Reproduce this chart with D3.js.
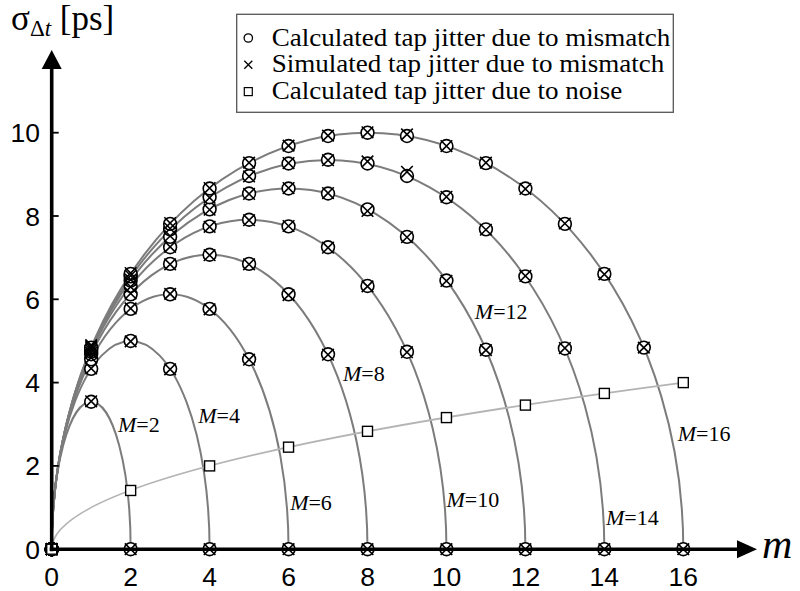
<!DOCTYPE html>
<html>
<head>
<meta charset="utf-8">
<script src="https://cdn.jsdelivr.net/npm/d3@7"></script>
<style>
  body { margin: 0; background: #fff; }
  svg { display: block; }
</style>
</head>
<body>
<svg id="chart" width="800" height="591"></svg>
<script>
// number of taps M for every curve
const tapCounts = [2, 4, 6, 8, 10, 12, 14, 16];
// peak height of each mismatch curve (at m = M/2), ps
const peakSigma = [3.54, 5.0, 6.12, 7.07, 7.91, 8.66, 9.35, 10.0];

// calculated tap jitter due to mismatch, index = m (0..M)
const calcMismatch = [
  [0, 3.54, 0],
  [0, 4.33, 5.0, 4.33, 0],
  [0, 4.56, 5.77, 6.12, 5.77, 4.56, 0],
  [0, 4.68, 6.12, 6.85, 7.07, 6.85, 6.12, 4.68, 0],
  [0, 4.74, 6.32, 7.25, 7.75, 7.91, 7.75, 7.25, 6.32, 4.74, 0],
  [0, 4.79, 6.45, 7.5, 8.16, 8.54, 8.66, 8.54, 8.16, 7.5, 6.45, 4.79, 0],
  [0, 4.82, 6.55, 7.68, 8.45, 8.96, 9.26, 9.35, 9.26, 8.96, 8.45, 7.68, 6.55, 4.82, 0],
  [0, 4.84, 6.61, 7.81, 8.66, 9.27, 9.68, 9.92, 10.0, 9.92, 9.68, 9.27, 8.66, 7.81, 6.61, 4.84, 0]
];

// simulated tap jitter due to mismatch, index = m (0..M)
const simMismatch = [
  [0, 3.55, 0],
  [0, 4.34, 4.99, 4.32, 0],
  [0, 4.6, 5.78, 6.13, 5.76, 4.55, 0],
  [0, 4.72, 6.14, 6.84, 7.06, 6.84, 6.1, 4.67, 0],
  [0, 4.78, 6.3, 7.26, 7.74, 7.9, 7.76, 7.24, 6.31, 4.73, 0],
  [0, 4.83, 6.47, 7.52, 8.15, 8.53, 8.67, 8.55, 8.12, 7.49, 6.44, 4.78, 0],
  [0, 4.87, 6.57, 7.7, 8.44, 8.95, 9.27, 9.34, 9.31, 9.06, 8.46, 7.67, 6.56, 4.83, 0],
  [0, 4.9, 6.63, 7.83, 8.67, 9.28, 9.69, 9.93, 10.01, 9.96, 9.68, 9.28, 8.65, 7.82, 6.6, 4.84, 0]
];

// calculated tap jitter due to noise
const noiseM = [0, 2, 4, 6, 8, 10, 12, 14, 16];
const noiseSigma = [0, 1.41, 2.0, 2.45, 2.83, 3.16, 3.46, 3.74, 4.0];

const xTicks = [0, 2, 4, 6, 8, 10, 12, 14, 16];
const yTicks = [0, 2, 4, 6, 8, 10];

const legendItems = [
  { shape: "circle", text: "Calculated tap jitter due to mismatch" },
  { shape: "cross", text: "Simulated tap jitter due to mismatch" },
  { shape: "square", text: "Calculated tap jitter due to noise" }
];

const svg = d3.select("#chart");
const x = d3.scaleLinear().domain([0, 16]).range([51.7, 683.3]);
const y = d3.scaleLinear().domain([0, 10]).range([549.2, 132.7]);

const curveColor = "#7c7c7c";
const noiseColor = "#b4b4b4";
const r = 6.4;
const crossHalf = 5.8;

// mismatch curves: each one is half an ellipse from (0,0) to (M,0)
svg
  .append("g")
  .selectAll("path")
  .data(tapCounts)
  .join("path")
  .attr("fill", "none")
  .attr("stroke", curveColor)
  .attr("stroke-width", 2)
  .attr("d", (M, i) => {
    const rx = (x(M) - x(0)) / 2;
    const ry = y(0) - y(peakSigma[i]);
    return `M${x(0)},${y(0)} A${rx},${ry} 0 0 1 ${x(M)},${y(0)}`;
  });

// noise curve (sideways parabola through the squares)
const nLast = noiseM.length - 1;
svg
  .append("path")
  .attr("fill", "none")
  .attr("stroke", noiseColor)
  .attr("stroke-width", 1.9)
  .attr(
    "d",
    `M${x(noiseM[0])},${y(noiseSigma[0])} Q${x(noiseM[0])},${y(noiseSigma[nLast] / 2)} ${x(noiseM[nLast])},${y(noiseSigma[nLast])}`
  );

// curve labels, anchored in data units
const labelAt = [
  [1.68, 2.81], [3.71, 3.03], [6.04, 0.93], [7.38, 4.04],
  [10.0, 1.01], [10.72, 5.53], [14.04, 0.58], [15.86, 2.6]
];
const labels = svg
  .append("g")
  .selectAll("text")
  .data(tapCounts)
  .join("text")
  .attr("x", (d, i) => x(labelAt[i][0]))
  .attr("y", (d, i) => y(labelAt[i][1]))
  .attr("font-family", "Liberation Serif, Times New Roman, serif")
  .attr("font-size", 22)
  .attr("fill", "#000");
labels.append("tspan").attr("font-style", "italic").text("M");
labels.append("tspan").text(d => "=" + d);

// markers
const toPoints = arr =>
  arr.flatMap((vals, i) => vals.map((v, m) => ({ M: tapCounts[i], m, v })));

const crossPath = (cx, cy, h) =>
  `M${cx - h},${cy - h}L${cx + h},${cy + h}M${cx - h},${cy + h}L${cx + h},${cy - h}`;

const marks = svg.append("g");

marks
  .selectAll("circle")
  .data(toPoints(calcMismatch))
  .join("circle")
  .attr("cx", d => x(d.m))
  .attr("cy", d => y(d.v))
  .attr("r", r)
  .attr("fill", "#fff")
  .attr("stroke", "#000")
  .attr("stroke-width", 1.6);

marks
  .selectAll("path.cross")
  .data(toPoints(simMismatch))
  .join("path")
  .classed("cross", true)
  .attr("d", d => crossPath(x(d.m), y(d.v), crossHalf))
  .attr("stroke", "#000")
  .attr("stroke-width", 1.6)
  .attr("fill", "none");

marks
  .selectAll("rect")
  .data(noiseM)
  .join("rect")
  .attr("x", (d, i) => x(d) - 5)
  .attr("y", (d, i) => y(noiseSigma[i]) - 5)
  .attr("width", 10)
  .attr("height", 10)
  .attr("fill", "#fff")
  .attr("stroke", "#000")
  .attr("stroke-width", 1.4);

// axes with arrow heads
const axes = svg.append("g").attr("fill", "#000").attr("stroke", "#000");
axes
  .append("line")
  .attr("x1", x(0))
  .attr("x2", x(0))
  .attr("y1", y(0) + 2)
  .attr("y2", 66)
  .attr("stroke-width", 3.6);
axes
  .append("path")
  .attr("stroke", "none")
  .attr("d", `M${x(0)},50 L${x(0) - 10},69 L${x(0) + 10},69 Z`);
axes
  .append("line")
  .attr("x1", x(0) - 2)
  .attr("x2", 740)
  .attr("y1", y(0))
  .attr("y2", y(0))
  .attr("stroke-width", 3.6);
axes
  .append("path")
  .attr("stroke", "none")
  .attr("d", `M757,${y(0)} L737,${y(0) - 9} L737,${y(0) + 9} Z`);

axes
  .selectAll("line.ytick")
  .data(yTicks.filter(d => d > 0))
  .join("line")
  .classed("ytick", true)
  .attr("x1", x(0))
  .attr("x2", x(0) + 7)
  .attr("y1", d => y(d))
  .attr("y2", d => y(d))
  .attr("stroke-width", 1.8);

const tickFont = "Liberation Sans, Arial, sans-serif";
svg
  .append("g")
  .selectAll("text")
  .data(yTicks)
  .join("text")
  .attr("x", 40)
  .attr("y", d => y(d))
  .attr("dy", "0.36em")
  .attr("text-anchor", "end")
  .attr("font-family", tickFont)
  .attr("font-size", 26.5)
  .text(d => d);

svg
  .append("g")
  .selectAll("text")
  .data(xTicks)
  .join("text")
  .attr("x", d => x(d))
  .attr("y", 586)
  .attr("text-anchor", "middle")
  .attr("font-family", tickFont)
  .attr("font-size", 26.5)
  .text(d => d);

// axis titles
const serif = "Liberation Serif, Times New Roman, serif";
const yTitle = svg
  .append("text")
  .attr("x", 11)
  .attr("y", 30)
  .attr("font-family", serif)
  .attr("font-size", 35);
yTitle.append("tspan").text("σ");
yTitle.append("tspan").attr("font-size", 23).attr("dy", 6).text("Δ");
yTitle.append("tspan").attr("font-size", 23).attr("font-style", "italic").text("t");
yTitle.append("tspan").attr("dy", -6).text(" [ps]");

svg
  .append("text")
  .attr("x", 762)
  .attr("y", 558)
  .attr("font-family", serif)
  .attr("font-style", "italic")
  .attr("font-size", 42)
  .text("m");

// legend
const legend = svg.append("g");
legend
  .append("rect")
  .attr("x", 236.7)
  .attr("y", 14.3)
  .attr("width", 436.6)
  .attr("height", 98)
  .attr("fill", "#fff")
  .attr("stroke", "#555")
  .attr("stroke-width", 1.3);

const rows = legend
  .selectAll("g.row")
  .data(legendItems)
  .join("g")
  .classed("row", true)
  .attr("transform", (d, i) => `translate(248.3, ${38 + i * 26.8})`);

rows.each(function (d) {
  const g = d3.select(this);
  if (d.shape === "circle") {
    g.append("circle").attr("r", 4.2).attr("fill", "none").attr("stroke", "#000").attr("stroke-width", 1.3);
  } else if (d.shape === "cross") {
    g.append("path").attr("d", crossPath(0, 0, 4)).attr("stroke", "#000").attr("stroke-width", 1.3);
  } else {
    g.append("rect").attr("x", -4).attr("y", -4).attr("width", 8).attr("height", 8)
      .attr("fill", "none").attr("stroke", "#000").attr("stroke-width", 1.2);
  }
});

rows
  .append("text")
  .attr("transform", "translate(23.4, 7.6) scale(1.04, 1)")
  .attr("font-family", serif)
  .attr("font-size", 26)
  .text(d => d.text);
</script>
</body>
</html>
